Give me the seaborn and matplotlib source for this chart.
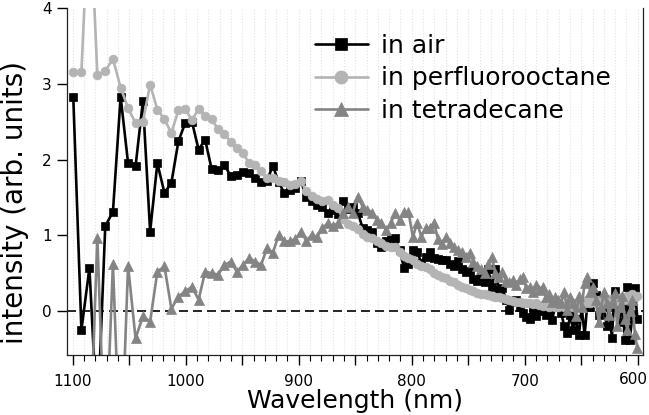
import matplotlib
matplotlib.use("Agg")
import matplotlib.pyplot as plt
from matplotlib.ticker import MultipleLocator, FuncFormatter
import seaborn as sns

# ---------------------------------------------------------------------------
# Data
# ---------------------------------------------------------------------------

wavelength = [
    1099.5, 1092.3, 1085.2, 1078.2, 1071.2, 1064.4, 1057.6, 1051.0, 1044.4, 1037.9,
    1031.5, 1025.1, 1018.8, 1012.7, 1006.5, 1000.5, 994.5, 988.6, 982.8, 977.0,
    971.3, 965.7, 960.2, 954.7, 949.2, 943.8, 938.5, 933.3, 928.1, 922.9,
    917.8, 912.8, 907.9, 902.9, 898.1, 893.3, 888.5, 883.8, 879.1, 874.5,
    869.9, 865.4, 861.0, 856.5, 852.2, 847.8, 843.5, 839.3, 835.1, 830.9,
    826.8, 822.7, 818.7, 814.7, 810.7, 806.8, 802.9, 799.0, 795.2, 791.5,
    787.7, 784.0, 780.3, 776.7, 773.1, 769.5, 766.0, 762.5, 759.0, 755.6,
    752.2, 748.8, 745.4, 742.1, 738.8, 735.6, 732.3, 729.1, 726.0, 722.8,
    719.7, 716.6, 713.5, 710.5, 707.5, 704.5, 701.5, 698.6, 695.7, 692.8,
    689.9, 687.1, 684.2, 681.4, 678.7, 675.9, 673.2, 670.5, 667.8, 665.1,
    662.5, 659.8, 657.2, 654.7, 652.1, 649.6, 647.0, 644.5, 642.1, 639.6,
    637.1, 634.7, 632.3, 629.9, 627.6, 625.2, 622.9, 620.5, 618.2, 616.0,
    613.7, 611.4, 609.2, 607.0, 604.8, 602.6, 600.4,
]

in_air = [
    2.83, -0.25, 0.57, -1.50, 1.12, 1.31, 2.83, 1.95, 1.91, 2.77,
    1.05, 1.95, 1.56, 1.69, 2.24, 2.48, 2.50, 2.13, 2.26, 1.87,
    1.86, 1.93, 1.78, 1.80, 1.84, 1.82, 1.75, 1.70, 1.72, 1.92,
    1.70, 1.56, 1.60, 1.62, 1.72, 1.50, 1.45, 1.40, 1.38, 1.30,
    1.33, 1.28, 1.45, 1.35, 1.38, 1.30, 1.10, 1.07, 1.05, 0.90,
    0.85, 0.92, 0.95, 0.96, 0.80, 0.57, 0.62, 0.81, 0.78, 0.64,
    0.72, 0.78, 0.70, 0.69, 0.67, 0.68, 0.62, 0.60, 0.66, 0.55,
    0.52, 0.53, 0.42, 0.40, 0.45, 0.38, 0.55, 0.32, 0.55, 0.28,
    0.30, 0.15, 0.02, 0.12, 0.15, 0.05, -0.02, -0.08, -0.10, 0.02,
    -0.07, 0.05, 0.00, -0.05, 0.02, -0.12, 0.05, 0.10, -0.02, -0.20,
    -0.29, -0.05, -0.25, -0.10, -0.32, 0.05, -0.32, 0.12, 0.05, 0.37,
    0.21, -0.05, 0.10, 0.08, -0.20, 0.05, -0.36, 0.26, 0.05, -0.15,
    0.10, -0.38, 0.32, -0.38, -0.05, 0.30, -0.10,
]

in_perfluorooctane = [
    3.15, 3.15, 5.50, 3.12, 3.17, 3.33, 2.95, 2.68, 2.48, 2.50,
    2.99, 2.66, 2.53, 2.35, 2.65, 2.67, 2.52, 2.67, 2.58, 2.53,
    2.40, 2.34, 2.23, 2.15, 2.08, 1.95, 1.93, 1.85, 1.75, 1.76,
    1.72, 1.70, 1.66, 1.68, 1.72, 1.58, 1.52, 1.48, 1.45, 1.47,
    1.40, 1.36, 1.22, 1.15, 1.12, 1.08, 1.02, 0.98, 0.96, 0.93,
    0.90, 0.86, 0.84, 0.85, 0.78, 0.73, 0.70, 0.67, 0.62, 0.60,
    0.58, 0.55, 0.50, 0.47, 0.45, 0.44, 0.40, 0.38, 0.34, 0.32,
    0.30, 0.28, 0.26, 0.24, 0.23, 0.22, 0.21, 0.20, 0.19, 0.18,
    0.17, 0.16, 0.14, 0.13, 0.12, 0.12, 0.11, 0.10, 0.10, 0.09,
    0.10, 0.08, 0.07, 0.08, 0.06, 0.07, 0.05, 0.06, 0.08, 0.05,
    0.07, 0.09, 0.06, 0.10, 0.08, 0.12, 0.10, 0.15, 0.11, 0.13,
    0.10, 0.14, 0.12, 0.15, 0.10, 0.16, 0.13, 0.12, 0.17, 0.14,
    0.18, 0.15, 0.20, 0.18, 0.22, 0.19, 0.20,
]

# tetradecane spectrum starts at the third wavelength (1085.2 nm)
in_tetradecane = [
    -2.00, 0.97, -2.00, 0.62, -2.10, 0.60, -0.36, -0.07, -0.14, 0.52,
    0.59, 0.03, 0.19, 0.26, 0.32, 0.15, 0.52, 0.50, 0.48, 0.61,
    0.65, 0.52, 0.61, 0.70, 0.65, 0.61, 0.83, 0.77, 1.00, 0.92,
    0.92, 0.95, 1.05, 0.93, 1.00, 0.98, 1.09, 1.16, 1.12, 1.16,
    1.29, 1.38, 1.30, 1.51, 1.38, 1.34, 1.30, 1.20, 1.16, 1.07,
    1.16, 1.29, 1.20, 1.31, 1.31, 0.98, 1.16, 0.98, 1.10, 1.10,
    1.16, 0.95, 0.89, 0.98, 0.90, 0.85, 0.81, 0.78, 0.72, 0.77,
    0.65, 0.59, 0.55, 0.50, 0.62, 0.72, 0.50, 0.45, 0.52, 0.40,
    0.38, 0.41, 0.35, 0.42, 0.45, 0.30, 0.32, 0.25, 0.35, 0.28,
    0.32, 0.19, 0.22, 0.12, 0.18, 0.15, 0.10, 0.25, 0.02, 0.18,
    0.10, -0.07, 0.20, 0.05, 0.37, 0.45, 0.25, 0.32, 0.15, -0.15,
    0.05, 0.25, 0.10, -0.05, 0.10, 0.24, -0.20, 0.05, 0.20, -0.10,
    -0.25, 0.00, 0.15, -0.30, -0.49,
]

x_ticks = [1100, 1000, 900, 800, 700, 600]
y_ticks = [0, 1, 2, 3, 4]

# ---------------------------------------------------------------------------
# Plot
# ---------------------------------------------------------------------------

sns.set_style("ticks")
plt.rcParams["font.family"] = ["DejaVu Sans"]
plt.rcParams.update({
    "text.color": "black",
    "axes.labelcolor": "black",
    "xtick.color": "black",
    "ytick.color": "black",
})

fig = plt.figure(figsize=(6.49, 4.15), dpi=100)
ax = fig.add_axes([0.1028, 0.1446, 0.8872, 0.8361])

series = [
    (wavelength, in_air, "in air", "#000000", "s", 6.0),
    (wavelength, in_perfluorooctane, "in perfluorooctane", "#b4b4b4", "o", 6.3),
    (wavelength[2:], in_tetradecane, "in tetradecane", "#848484", "^", 7.0),
]
for xs, ys, label, color, marker, ms in series:
    sns.lineplot(
        x=xs, y=ys, ax=ax, color=color, marker=marker, markersize=ms,
        markeredgecolor=color, markeredgewidth=0.5, linewidth=1.9,
        estimator=None, sort=False, label=label,
    )

ax.axhline(0, color="black", lw=1.2, ls=(0, (5.4, 3.0)), zorder=1)

ax.set_xlim(1105.3, 595.8)
ax.set_ylim(-0.58, 4.0)

# labels every 100 nm; the last one (600) is nudged left so it stays inside
ax.xaxis.set_major_locator(MultipleLocator(50))
ax.xaxis.set_minor_locator(MultipleLocator(10))
ax.xaxis.set_major_formatter(
    FuncFormatter(lambda v, _: f"{v:.0f}" if round(v) in x_ticks[:-1] else "")
)
ax.annotate(
    f"{x_ticks[-1]}", xy=(x_ticks[-1], 0), xycoords=("data", "axes fraction"),
    xytext=(-3, -12), textcoords="offset points", ha="center", va="top",
    fontsize=11, color="black",
)
ax.set_yticks(y_ticks)

ax.tick_params(axis="both", which="major", direction="out", length=7,
               width=1.0, labelsize=11, pad=4)
ax.tick_params(axis="x", which="major", pad=7)
ax.tick_params(axis="x", which="minor", direction="out", length=4, width=0.8)

ax.grid(axis="x", which="both", color="#e2e2e2", ls=":", lw=0.8)
ax.set_axisbelow(True)

for side in ("left", "bottom", "right"):
    ax.spines[side].set_color("#222222")
    ax.spines[side].set_linewidth(0.9)
ax.spines["top"].set_visible(False)

ax.set_xlabel("Wavelength (nm)", fontsize=18, labelpad=0)
ax.set_ylabel("intensity (arb. units)", fontsize=20)
ax.yaxis.set_label_coords(-0.066, 0.44)

ax.legend(
    loc="upper left", bbox_to_anchor=(315 / 649, 1 - 34 / 415),
    bbox_transform=fig.transFigure, frameon=False, fontsize=18,
    markerscale=1.5, handlelength=2.1, handletextpad=0.55,
    labelspacing=0.34, borderpad=0, borderaxespad=0,
)

fig.savefig("out.png", dpi=100)
plt.close(fig)
